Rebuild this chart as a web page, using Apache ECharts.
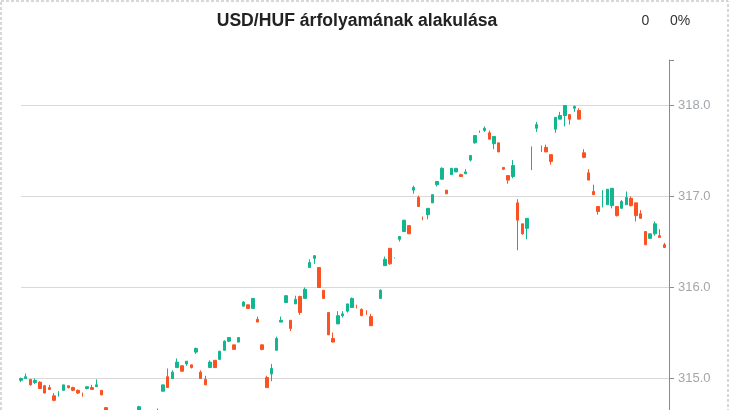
<!DOCTYPE html>
<html>
<head>
<meta charset="utf-8">
<script src="https://cdn.jsdelivr.net/npm/echarts/dist/echarts.min.js"></script>
<style>
html,body{margin:0;padding:0;background:#fff;overflow:hidden;}
#chart{width:730px;height:410px;}
</style>
</head>
<body>
<div id="chart"></div>
<script>
// Candle values (index 75 is a gap)
const opens = [314.98,315.00,314.99,314.956,314.96,314.92,314.90,314.81,314.83,314.87,
314.92,314.90,314.87,314.84,314.89,314.90,314.91,314.87,314.68,314.62,
314.55,314.48,314.52,314.45,314.50,314.50,314.62,314.55,314.58,314.55,
314.86,315.02,315.00,315.12,315.14,315.16,315.15,315.29,315.07,314.99,
315.12,315.20,315.21,315.31,315.41,315.37,315.40,315.795,315.81,315.77,
315.65,315.37,315.01,315.05,315.31,315.62,315.835,315.64,315.82,315.90,
315.88,316.22,316.32,316.22,315.97,315.725,315.44,315.60,315.69,315.74,
315.78,315.79,315.76,315.73,315.68,null,315.88,316.24,316.43,316.32,
316.53,316.615,316.68,317.07,316.99,316.77,316.80,316.93,317.13,317.19,
317.07,317.24,317.27,317.24,317.25,317.40,317.59,317.715,317.725,317.70,
317.58,317.59,317.32,317.23,317.22,316.93,316.70,316.65,317.40,317.75,
317.52,317.54,317.46,317.74,317.85,317.89,317.90,317.97,317.945,317.48,
317.26,317.055,316.89,316.95,316.91,316.90,316.89,316.87,316.91,316.98,
316.93,316.81,316.615,316.54,316.59,316.57,316.47];
const closes = [315.00,315.02,314.93,314.98,314.89,314.84,314.88,314.76,314.835,314.93,
314.90,314.87,314.84,314.835,314.91,314.88,314.93,314.82,314.60,314.55,
314.48,314.52,314.45,314.50,314.46,314.69,314.55,314.58,314.52,314.60,
314.93,314.90,315.07,315.18,315.08,315.19,315.12,315.33,315.00,314.93,
315.18,315.12,315.30,315.41,315.45,315.32,315.45,315.84,315.77,315.88,
315.62,315.32,314.90,315.11,315.44,315.64,315.91,315.55,315.87,315.725,
315.98,316.275,316.35,316.00,315.88,315.48,315.40,315.69,315.71,315.82,
315.88,315.785,315.69,315.725,315.58,null,315.97,316.31,316.26,316.325,
316.56,316.74,316.59,317.10,316.89,316.765,316.87,317.02,317.165,317.31,
317.03,317.31,317.31,317.22,317.27,317.45,317.67,317.72,317.75,317.63,
317.66,317.49,317.30,317.18,317.34,316.74,316.59,316.76,317.405,317.79,
317.515,317.49,317.385,317.87,317.89,318.00,317.85,317.99,317.85,317.43,
317.18,317.02,316.835,316.955,317.08,317.09,316.79,316.945,316.99,316.90,
316.79,316.76,316.47,316.59,316.70,316.55,316.44];
const lows = [314.96,314.995,314.92,314.94,314.89,314.84,314.88,314.75,314.80,314.87,
314.89,314.86,314.83,314.80,314.88,314.88,314.91,314.82,314.58,314.50,
314.45,314.44,314.40,314.42,314.42,314.47,314.50,314.50,314.48,314.50,
314.86,314.90,315.00,315.12,315.08,315.14,315.11,315.27,315.00,314.93,
315.12,315.12,315.21,315.31,315.40,315.32,315.40,315.795,315.77,315.77,
315.62,315.31,314.90,314.97,315.31,315.62,315.835,315.52,315.82,315.70,
315.88,316.22,316.26,316.00,315.88,315.48,315.40,315.60,315.67,315.725,
315.78,315.77,315.69,315.70,315.58,null,315.88,316.24,316.25,316.32,
316.505,316.615,316.59,317.03,316.89,316.74,316.75,316.93,317.11,317.19,
317.03,317.24,317.27,317.22,317.25,317.385,317.58,317.70,317.71,317.63,
317.52,317.49,317.29,317.14,317.20,316.41,316.58,316.53,317.29,317.71,
317.49,317.49,317.35,317.70,317.85,317.77,317.79,317.93,317.85,317.42,
317.18,317.02,316.80,316.88,316.91,316.87,316.78,316.87,316.91,316.89,
316.725,316.76,316.47,316.54,316.57,316.55,316.44];
const highs = [315.01,315.055,314.99,315.00,314.97,314.93,314.93,314.84,314.86,314.93,
314.92,314.91,314.88,314.845,314.91,314.93,314.99,314.87,314.68,314.63,
314.58,314.56,314.55,314.54,314.55,314.70,314.63,314.62,314.61,314.67,
314.93,315.11,315.09,315.22,315.14,315.19,315.15,315.34,315.09,315.03,
315.20,315.20,315.30,315.42,315.45,315.37,315.45,315.85,315.81,315.88,
315.68,315.37,315.03,315.16,315.46,315.68,315.91,315.64,315.91,315.91,
316.00,316.31,316.35,316.22,315.97,315.725,315.505,315.74,315.74,315.82,
315.89,315.81,315.77,315.75,315.71,null,315.98,316.34,316.43,316.33,
316.56,316.74,316.68,317.12,317.01,316.78,316.87,317.02,317.165,317.32,
317.07,317.31,317.31,317.25,317.30,317.45,317.67,317.725,317.77,317.725,
317.66,317.59,317.32,317.23,317.40,316.97,316.70,316.76,317.55,317.82,
317.56,317.57,317.46,317.87,317.93,318.00,317.90,318.00,317.97,317.52,
317.30,317.13,316.89,317.07,317.08,317.09,316.89,316.96,317.055,317.00,
316.93,316.85,316.615,316.59,316.725,316.64,316.49];
const categoryCount = 138;
const categories = Array.from({length: categoryCount}, (_, i) => String(i + 1));
const yRange = {min: 314, max: 318.5, step: 1};
const titleText = 'USD/HUF árfolyamának alakulása';
const changeValue = '0';
const changePercent = '0%';

const DOJI_EPS = 0.006;
const isDoji = i => opens[i] !== null && Math.abs(closes[i] - opens[i]) <= DOJI_EPS;
const bodyData = categories.map((_, i) => {
  if (i >= opens.length || opens[i] === null || isDoji(i)) return '-';
  return [opens[i], closes[i], lows[i], highs[i]];
});
const dojiData = categories.map((_, i) => {
  if (i >= opens.length || opens[i] === null || !isDoji(i)) return '-';
  return [opens[i], closes[i], lows[i], highs[i]];
});

const UP = '#13b68e', DOWN = '#fb5224';
const AXIS = '#8c8c8c';
const FONT = '"Liberation Sans", Arial, sans-serif';
const candleStyle = {color: UP, color0: DOWN, borderColor: UP, borderColor0: DOWN, borderWidth: 1};
const chart = echarts.init(document.getElementById('chart'), null, {renderer: 'canvas'});
chart.setOption({
  animation: false,
  backgroundColor: '#fff',
  grid: {left: 21, right: 61, top: 60, height: 409.5, containLabel: false, outerBoundsMode: 'none'},
  xAxis: {
    type: 'category', data: categories, boundaryGap: false,
    axisLine: {show: false}, axisTick: {show: false}, axisLabel: {show: false}, splitLine: {show: false}
  },
  yAxis: [{
    type: 'value', position: 'right', min: yRange.min, max: yRange.max, interval: yRange.step,
    axisLine: {show: true, lineStyle: {color: AXIS, width: 1}},
    axisTick: {show: true, length: 5, lineStyle: {color: AXIS}},
    axisLabel: {
      show: true, margin: 9, color: '#a3a6ab', fontSize: 13, fontFamily: FONT,
      showMaxLabel: false, showMinLabel: true,
      formatter: v => (v % 1 === 0 ? v.toFixed(1) : '')
    },
    splitLine: {show: true, showMaxLine: false, lineStyle: {color: '#d9d9d9', width: 1}}
  }, {
    // end-of-axis tick at the top of the scale
    type: 'value', position: 'right', min: yRange.min, max: yRange.max,
    interval: yRange.max - yRange.min,
    axisLine: {show: false},
    axisTick: {show: true, length: 5, lineStyle: {color: AXIS}},
    axisLabel: {show: false},
    splitLine: {show: false}
  }],
  series: [{
    type: 'candlestick',
    data: bodyData,
    barWidth: 3,
    itemStyle: candleStyle
  }, {
    type: 'candlestick',
    data: dojiData,
    barWidth: 0.3,
    itemStyle: candleStyle
  }],
  graphic: [
    {type: 'rect', silent: true, z: 100,
     shape: {x: 1, y: 1, width: 727, height: 480},
     style: {fill: 'none', stroke: '#b0b0b0', lineWidth: 1, lineDash: [3, 2]}},
    {type: 'text', silent: true, z: 100, x: 357, y: 21,
     style: {text: titleText, font: 'bold 17.6px ' + FONT, fill: '#222', textAlign: 'center', textVerticalAlign: 'middle'}},
    {type: 'text', silent: true, z: 100, x: 645.5, y: 21,
     style: {text: changeValue, font: '14px ' + FONT, fill: '#333', textAlign: 'center', textVerticalAlign: 'middle'}},
    {type: 'text', silent: true, z: 100, x: 670, y: 21,
     style: {text: changePercent, font: '14px ' + FONT, fill: '#333', textAlign: 'left', textVerticalAlign: 'middle'}}
  ]
});
</script>
</body>
</html>
